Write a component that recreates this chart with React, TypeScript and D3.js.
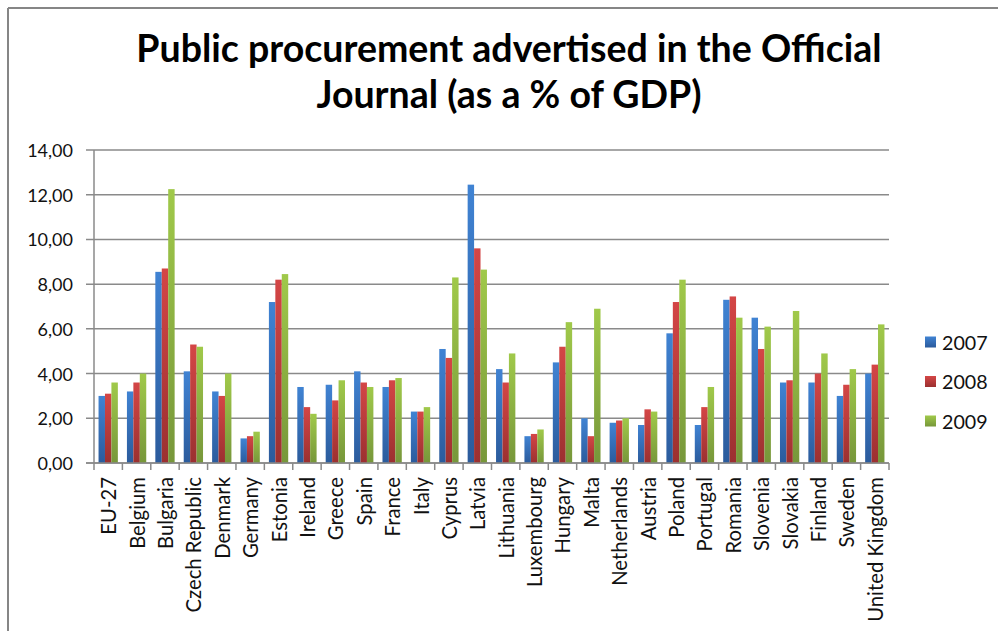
import React from "react";
import * as d3 from "d3";

const titleLines = ["Public procurement advertised in the Official", "Journal (as a % of GDP)"];

const categories = [
  "EU-27", "Belgium", "Bulgaria", "Czech Republic", "Denmark", "Germany", "Estonia",
  "Ireland", "Greece", "Spain", "France", "Italy", "Cyprus", "Latvia", "Lithuania",
  "Luxembourg", "Hungary", "Malta", "Netherlands", "Austria", "Poland", "Portugal",
  "Romania", "Slovenia", "Slovakia", "Finland", "Sweden", "United Kingdom",
];

const seriesNames = ["2007", "2008", "2009"];

const v2007 = [3.0, 3.2, 8.55, 4.1, 3.2, 1.1, 7.2, 3.4, 3.5, 4.1, 3.4, 2.3, 5.1, 12.45, 4.2, 1.2, 4.5, 2.0, 1.8, 1.7, 5.8, 1.7, 7.3, 6.5, 3.6, 3.6, 3.0, 4.0];
const v2008 = [3.1, 3.6, 8.7, 5.3, 3.0, 1.2, 8.2, 2.5, 2.8, 3.6, 3.7, 2.3, 4.7, 9.6, 3.6, 1.3, 5.2, 1.2, 1.9, 2.4, 7.2, 2.5, 7.45, 5.1, 3.7, 4.0, 3.5, 4.4];
const v2009 = [3.6, 4.0, 12.25, 5.2, 4.0, 1.4, 8.45, 2.2, 3.7, 3.4, 3.8, 2.5, 8.3, 8.65, 4.9, 1.5, 6.3, 6.9, 2.0, 2.3, 8.2, 3.4, 6.5, 6.1, 6.8, 4.9, 4.2, 6.2];

const yTicks = [0, 2, 4, 6, 8, 10, 12, 14];

const seriesValues = [v2007, v2008, v2009];
const gradTop = ["#4083d3", "#d44646", "#a0c94a"];
const gradBottom = ["#2b5b9c", "#9b3030", "#77973a"];

const W = 998;
const H = 631;
const PL = 94;
const PR = 889;
const PT = 150;
const PB = 463;
const FONT = "Lato, 'Open Sans', sans-serif";

export default function App() {
  const x = d3.scaleBand<string>().domain(categories).range([PL, PR]).padding(0);
  const bw = x.bandwidth();
  const groupW = bw * 0.68;
  const x1 = d3
    .scaleBand<string>()
    .domain(seriesNames)
    .range([(bw - groupW) / 2, (bw + groupW) / 2])
    .padding(0);
  const y = d3.scaleLinear().domain([0, 14]).range([PB, PT]);
  const fmt = (v: number) => d3.format(".2f")(v).replace(".", ",");

  return (
    <svg
      width={W}
      height={H}
      style={{ position: "absolute", left: 0, top: 0, background: "#fff" }}
      fontFamily={FONT}
    >
      <defs>
        {seriesNames.map((s, i) => (
          <linearGradient key={s} id={`g${i}`} x1="0" y1="0" x2="0" y2="1">
            <stop offset="0" stopColor={gradTop[i]} />
            <stop offset="1" stopColor={gradBottom[i]} />
          </linearGradient>
        ))}
      </defs>
      <rect x={0} y={0} width={W} height={H} fill="#fff" />
      {/* frame */}
      <line x1={8} y1={8} x2={W} y2={8} stroke="#868686" strokeWidth={2} />
      <line x1={8} y1={8} x2={8} y2={H} stroke="#868686" strokeWidth={2} />

      {/* title */}
      {titleLines.map((t, i) => (
        <text
          key={i}
          x={509}
          y={62 + i * 46}
          textAnchor="middle"
          fontSize={37.5}
          fontWeight="bold"
          fill="#000"
        >
          {t}
        </text>
      ))}

      {/* gridlines */}
      {yTicks.map((t) => (
        <g key={t}>
          <line x1={PL - 8} x2={PR} y1={y(t)} y2={y(t)} stroke="#8a8a8a" strokeWidth={1.5} />
          <text
            x={73}
            y={y(t)}
            textAnchor="end"
            dominantBaseline="central"
            fontSize={18}
            fill="#111"
          >
            {fmt(t)}
          </text>
        </g>
      ))}
      <line x1={PL} x2={PL} y1={PT} y2={PB} stroke="#8a8a8a" strokeWidth={1.5} />

      {/* bars */}
      {seriesValues.map((vals, si) =>
        vals.map((v, ci) => (
          <rect
            key={`${si}-${ci}`}
            x={(x(categories[ci]) as number) + (x1(seriesNames[si]) as number)}
            y={y(v)}
            width={x1.bandwidth()}
            height={PB - y(v)}
            fill={`url(#g${si})`}
          />
        ))
      )}

      {/* x ticks */}
      {categories.concat([""]).map((c, i) => {
        const xx = PL + i * bw;
        return <line key={i} x1={xx} x2={xx} y1={PB} y2={PB + 7} stroke="#8a8a8a" strokeWidth={1.5} />;
      })}
      <line x1={PL - 8} x2={PR} y1={PB} y2={PB} stroke="#8a8a8a" strokeWidth={1.5} />

      {/* category labels */}
      {categories.map((c) => {
        const cx = (x(c) as number) + bw / 2;
        return (
          <text
            key={c}
            transform={`translate(${cx},${477}) rotate(-90)`}
            textAnchor="end"
            dominantBaseline="central"
            fontSize={20.3}
            fill="#111"
          >
            {c}
          </text>
        );
      })}

      {/* legend */}
      {seriesNames.map((s, i) => {
        const cy = 342 + i * 39.5;
        return (
          <g key={s}>
            <rect x={925} y={cy - 5.5} width={11} height={11} fill={`url(#g${i})`} />
            <text x={942} y={cy} dominantBaseline="central" fontSize={19.7} fill="#111">
              {s}
            </text>
          </g>
        );
      })}
    </svg>
  );
}
